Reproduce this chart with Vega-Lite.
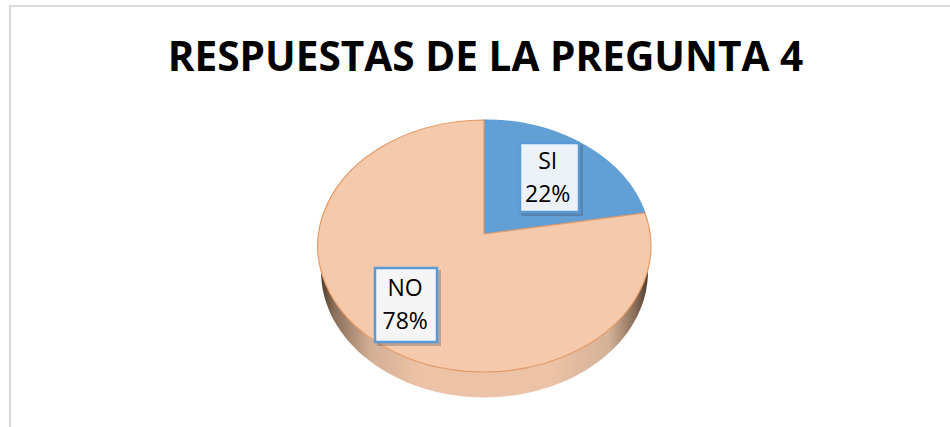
{
  "$schema": "https://vega.github.io/schema/vega-lite/v6.json",
  "width": 948,
  "height": 458,
  "autosize": {"type": "none"},
  "padding": {"left": 10, "top": 6, "right": -8, "bottom": -37},
  "background": "#ffffff",
  "title": {"text": "RESPUESTAS DE LA PREGUNTA 4", "anchor": "middle", "offset": -67, "dx": 1.5, "dy": 48, "font": "Open Sans", "fontSize": 40.6, "fontWeight": 700, "color": "#000000", "baseline": "bottom"},
  "view": {"stroke": "#d9d9d9", "strokeWidth": 2, "fill": "#ffffff"},
  "data": {"values": [
    {"respuesta": "SI", "porcentaje": 22, "etiqueta": "SI\n22%"},
    {"respuesta": "NO", "porcentaje": 78, "etiqueta": "NO\n78%"}
  ]},
  "resolve": {"scale": {"shape": "independent", "fill": "independent", "stroke": "independent"}},
  "layer": [
    {
      "data": {"values": [{"parte": "lateral"}]},
      "mark": {"type": "point", "filled": true, "size": 4, "opacity": 1, "shape": "M-163,36A163,126 0 1 0 164,36A163,126 0 1 0 -163,36Z",
        "fill": {"x1": 0, "y1": 0, "x2": 1, "y2": 0, "gradient": "linear", "stops": [
          {"offset": 0, "color": "#4f3b2e"},
          {"offset": 0.04, "color": "#8a6e5a"},
          {"offset": 0.15, "color": "#d2ae94"},
          {"offset": 0.3, "color": "#ecc3a7"},
          {"offset": 0.7, "color": "#ecc3a7"},
          {"offset": 0.88, "color": "#d4b298"},
          {"offset": 0.96, "color": "#8a6e5a"},
          {"offset": 1, "color": "#4f3b2e"}
        ]}},
      "encoding": {}
    },
    {
      "mark": {"type": "point", "filled": true, "size": 4, "opacity": 1, "strokeWidth": 1.2},
      "encoding": {
        "shape": {"field": "respuesta", "type": "nominal", "legend": null, "scale": {"domain": ["SI", "NO"], "range": ["M0,-1L0,-115A166.5,126 0 0 1 161,-22Z", "M0,-1L161,-22A166.5,126 0 1 1 0,-115Z"]}},
        "fill": {"field": "respuesta", "type": "nominal", "legend": null, "scale": {"domain": ["SI", "NO"], "range": ["#629fd5", "#f5c9ab"]}},
        "stroke": {"field": "respuesta", "type": "nominal", "legend": null, "scale": {"domain": ["SI", "NO"], "range": ["#5b9bd5", "#e59a66"]}}
      }
    },
    {
      "mark": {"type": "point", "filled": true, "size": 4, "opacity": 0.3, "fill": "#3a4a5a", "strokeWidth": 0},
      "encoding": {
        "shape": {"field": "respuesta", "type": "nominal", "legend": null, "scale": {"domain": ["SI", "NO"], "range": ["M37,-90H99V-19H37Z", "M-107,35H-43V111H-107Z"]}}
      }
    },
    {
      "mark": {"type": "point", "filled": true, "size": 4, "opacity": 1, "strokeWidth": 2.5, "stroke": "#5b9bd5"},
      "encoding": {
        "shape": {"field": "respuesta", "type": "nominal", "legend": null, "scale": {"domain": ["SI", "NO"], "range": ["M36,-92H95V-23H36Z", "M-109,33H-47V107H-109Z"]}},
        "fill": {"field": "respuesta", "type": "nominal", "legend": null, "scale": {"domain": ["SI", "NO"], "range": ["#edf2f9", "#f5f5f5"]}}
      }
    },
    {
      "mark": {"type": "text", "font": "Open Sans", "fontSize": 23, "lineBreak": "\n", "lineHeight": 33, "dy": -16.5, "color": "#000000", "align": "center", "baseline": "middle"},
      "encoding": {
        "theta": {"field": "porcentaje", "type": "quantitative", "stack": true, "scale": {"range": [0.15, 6.433]}},
        "radius": {"field": "porcentaje", "type": "quantitative", "scale": {"type": "linear", "zero": false, "domain": [22, 78], "range": [85.4, 105.8]}},
        "order": {"field": "porcentaje", "type": "quantitative", "sort": "ascending"},
        "text": {"field": "etiqueta", "type": "nominal"}
      }
    }
  ]
}
